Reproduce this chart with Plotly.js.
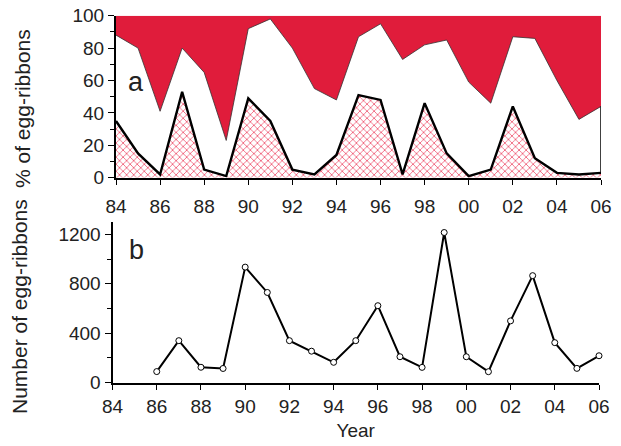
<!DOCTYPE html>
<html>
<head>
<meta charset="utf-8">
<script src="https://cdn.plot.ly/plotly-3.0.1.min.js"></script>
<style>html,body{margin:0;padding:0;background:#fff;}#chart{width:621px;height:446px;}</style>
</head>
<body>
<div id="chart"></div>
<script>
// ---- data ----
const years = [1984,1985,1986,1987,1988,1989,1990,1991,1992,1993,1994,1995,1996,1997,1998,1999,2000,2001,2002,2003,2004,2005,2006];
// panel a: upper boundary (red above) and lower boundary (hatched below), % of egg-ribbons
const upperPct = [88,80,41,80,65,23,92,98,80,55,48,87,95,73,82,85,59,46,87,86,60,36,44];
const lowerPct = [35,15,2,53,5,1,49,35,5,2,14,51,48,2,46,15,1,5,44,12,3,2,3];
// panel b: number of egg-ribbons
const countYears = [1986,1987,1988,1989,1990,1991,1992,1993,1994,1995,1996,1997,1998,1999,2000,2001,2002,2003,2004,2005,2006];
const counts = [90,340,125,115,935,730,340,255,165,340,623,210,124,1215,210,89,500,866,324,116,218];
// tick labels
const xTickVals = [1984,1986,1988,1990,1992,1994,1996,1998,2000,2002,2004,2006];
const xTickText = ["84","86","88","90","92","94","96","98","00","02","04","06"];

const FONT = "Liberation Sans, Arial, Helvetica, sans-serif";
const TXT = "#222";
const RED = "#e01c3b";

const ceiling = years.map(() => 100);
const lastYear = years[years.length-1];

const traces = [
  {x: years, y: ceiling, xaxis:'x', yaxis:'y', mode:'lines', line:{width:0, color:RED}, hoverinfo:'skip', showlegend:false},
  {x: years, y: upperPct, xaxis:'x', yaxis:'y', mode:'lines', fill:'tonexty', fillcolor:RED, line:{width:0.8, color:'#333'}, showlegend:false},
  {x: years, y: lowerPct, xaxis:'x', yaxis:'y', mode:'lines', fill:'tozeroy', fillcolor:'#ffffff',
   fillpattern:{shape:'x', fgcolor:'#ef5a74', bgcolor:'#ffffff', size:5, solidity:0.3},
   line:{width:2.4, color:'#000'}, showlegend:false},
  {x: [lastYear,lastYear], y: [lowerPct[lowerPct.length-1], upperPct[upperPct.length-1]], xaxis:'x', yaxis:'y', mode:'lines', line:{width:1.5, color:'#000'}, showlegend:false},
  {x: countYears, y: counts, xaxis:'x2', yaxis:'y2', mode:'lines+markers', cliponaxis:false, line:{width:2, color:'#000'},
   marker:{symbol:'circle', size:6, color:'#fff', line:{width:1, color:'#000'}}, showlegend:false}
];

const W = 621, H = 446;
const tickFont = {family: FONT, size: 19, color: TXT};
const layout = {
  width: W, height: H,
  margin: {l:0, r:0, t:0, b:0},
  paper_bgcolor:'#fff', plot_bgcolor:'#fff',
  showlegend:false,
  xaxis: {domain:[116/W, 601/W], range:[1984,2006], anchor:'y', showgrid:false, zeroline:false,
    showline:true, linecolor:'#000', linewidth:2, ticks:'outside', ticklen:5, tickwidth:1, tickcolor:'#000',
    tickvals:xTickVals, ticktext:xTickText, tickfont:tickFont, ticklabelstandoff:5},
  yaxis: {domain:[1-177.7/H, 1-15.7/H], range:[0,100], anchor:'x', showgrid:false, zeroline:false,
    showline:true, linecolor:'#000', linewidth:2, ticks:'outside', ticklen:6, tickwidth:1, tickcolor:'#000',
    tickvals:[0,20,40,60,80,100], tickfont:tickFont,
    minor:{tickvals:[10,30,50,70,90], ticks:'outside', ticklen:4, tickwidth:1, tickcolor:'#000', showgrid:false}},
  xaxis2: {domain:[112.5/W, 599/W], range:[1984,2006], anchor:'y2', showgrid:false, zeroline:false,
    showline:true, linecolor:'#000', linewidth:2, ticks:'outside', ticklen:5, tickwidth:1, tickcolor:'#000',
    tickvals:xTickVals, ticktext:xTickText, tickfont:tickFont,
    title:{text:'Year', font:{family:FONT, size:19, color:TXT}, standoff:8}},
  yaxis2: {domain:[1-382.7/H, 1-222/H], range:[0,1300], anchor:'x2', showgrid:false, zeroline:false,
    showline:true, linecolor:'#000', linewidth:2, ticks:'outside', ticklen:6, tickwidth:1, tickcolor:'#000',
    tickvals:[0,400,800,1200], tickfont:tickFont,
    minor:{tickvals:[200,600,1000], ticks:'outside', ticklen:4, tickwidth:1, tickcolor:'#000', showgrid:false}},
  annotations: [
    {text:'% of egg-ribbons', textangle:-90, xref:'paper', yref:'paper', x:22/W, y:1-109/H, xanchor:'center', yanchor:'middle', showarrow:false, font:{family:FONT, size:21, color:TXT}},
    {text:'Number of egg-ribbons', textangle:-90, xref:'paper', yref:'paper', x:19/W, y:1-307/H, xanchor:'center', yanchor:'middle', showarrow:false, font:{family:FONT, size:21, color:TXT}},
    {text:'a', xref:'paper', yref:'paper', x:136/W, y:1-82/H, xanchor:'center', yanchor:'middle', showarrow:false, font:{family:FONT, size:27, color:TXT}},
    {text:'b', xref:'paper', yref:'paper', x:136/W, y:1-250/H, xanchor:'center', yanchor:'middle', showarrow:false, font:{family:FONT, size:27, color:TXT}}
  ]
};

Plotly.newPlot('chart', traces, layout, {displayModeBar:false, staticPlot:true});
</script>
</body>
</html>
